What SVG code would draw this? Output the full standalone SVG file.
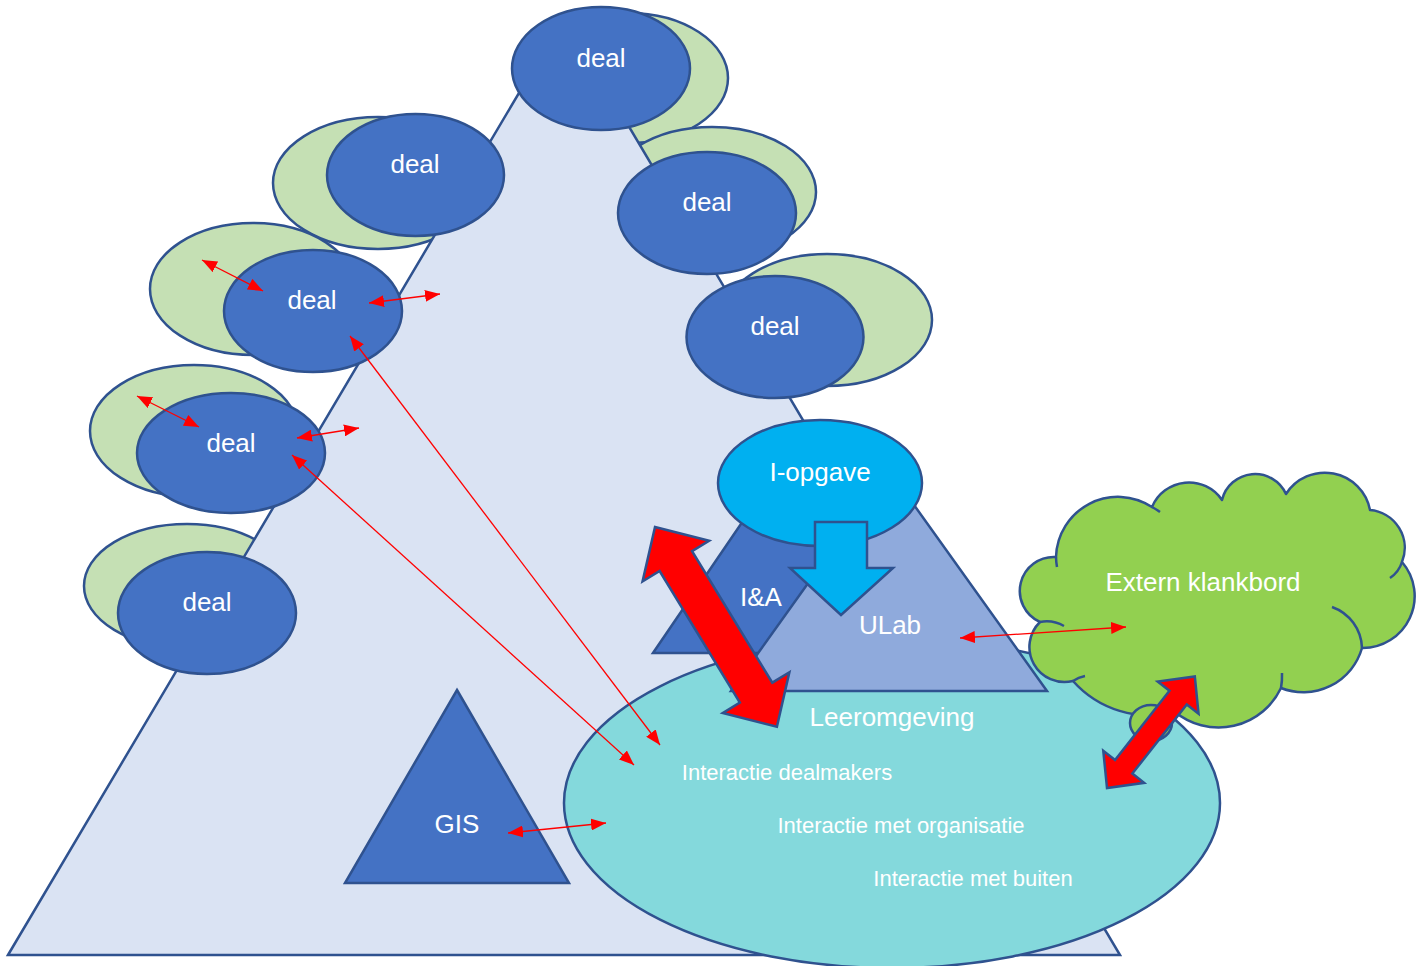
<svg xmlns="http://www.w3.org/2000/svg" width="1423" height="966" viewBox="0 0 1423 966">
<defs>
<style>
.tri{fill:#DAE3F3;stroke:#2F528F;stroke-width:2.5}
.g{fill:#C5E0B4;stroke:#2F528F;stroke-width:2.5}
.b{fill:#4472C4;stroke:#2F528F;stroke-width:2.5}
.lbl{font-family:"Liberation Sans",Arial,sans-serif;fill:#FFFFFF;text-anchor:middle}
.big{font-size:26px}
.sm{font-size:22px}
.thin{stroke:#FF0000;stroke-width:1.3;fill:none;marker-start:url(#ah);marker-end:url(#ah)}
.thick{fill:#FF0000;stroke:#2F528F;stroke-width:2.5;stroke-linejoin:miter}
.tail{fill:none;stroke:#2F528F;stroke-width:2.5}
</style>
<marker id="ah" viewBox="0 0 15 12" markerUnits="userSpaceOnUse" markerWidth="15" markerHeight="12" refX="15" refY="6" orient="auto-start-reverse">
<path d="M0,0 L15,6 L0,12 Z" fill="#FF0000"/>
</marker>
</defs>
<rect width="1423" height="966" fill="#FFFFFF"/>

<g id="deal-shadows">
<ellipse class="g" cx="628" cy="78" rx="100" ry="65"/>
<ellipse class="g" cx="378" cy="183" rx="105" ry="66"/>
<ellipse class="g" cx="712" cy="192" rx="104" ry="65"/>
<ellipse class="g" cx="253" cy="289" rx="103" ry="66"/>
<ellipse class="g" cx="827" cy="320" rx="105" ry="66"/>
<ellipse class="g" cx="194" cy="431" rx="104" ry="66"/>
<ellipse class="g" cx="187" cy="586" rx="103" ry="62"/>
</g>

<g id="organisatie">
<polygon class="tri" points="8,955 564,17 1120,955"/>
</g>

<g id="deal-1"><ellipse class="b" cx="601" cy="68.5" rx="89" ry="61.5"/><text class="lbl big" x="601" y="67">deal</text></g>
<g id="deal-2"><ellipse class="b" cx="415.5" cy="175" rx="88.5" ry="61"/><text class="lbl big" x="415" y="173">deal</text></g>
<g id="deal-3"><ellipse class="b" cx="707" cy="213" rx="89" ry="61"/><text class="lbl big" x="707" y="211">deal</text></g>
<g id="deal-4"><ellipse class="b" cx="313" cy="311" rx="89" ry="61"/><text class="lbl big" x="312" y="309">deal</text></g>
<g id="deal-5"><ellipse class="b" cx="775" cy="337" rx="88.5" ry="61"/><text class="lbl big" x="775" y="335">deal</text></g>
<g id="deal-6"><ellipse class="b" cx="231" cy="453" rx="94" ry="60"/><text class="lbl big" x="231" y="452">deal</text></g>
<g id="deal-7"><ellipse class="b" cx="207" cy="613" rx="89" ry="61"/><text class="lbl big" x="207" y="611">deal</text></g>

<g id="leeromgeving">
<ellipse cx="892" cy="803" rx="328" ry="165" fill="#84D9DC" stroke="#2F528F" stroke-width="2.5"/>
<text class="lbl big" x="892" y="726">Leeromgeving</text>
<text class="lbl sm" x="787" y="780">Interactie dealmakers</text>
<text class="lbl sm" x="901" y="833">Interactie met organisatie</text>
<text class="lbl sm" x="973" y="886">Interactie met buiten</text>
</g>

<g id="ia">
<polygon class="b" points="653,653 805,430 957,653"/>
<text class="lbl big" x="761" y="606">I&amp;A</text>
</g>

<g id="ulab">
<polygon points="731,691 889,470 1047,691" fill="#8FAADC" stroke="#2F528F" stroke-width="2.5"/>
<text class="lbl big" x="890" y="634">ULab</text>
</g>

<g id="i-opgave">
<ellipse cx="820" cy="483" rx="102" ry="63" fill="#00B0F0" stroke="#2F528F" stroke-width="2.5"/>
<text class="lbl big" x="820" y="481">I-opgave</text>
<polygon points="815,522 867,522 867,568 893,568 841,615 790,568 815,568" fill="#00B0F0" stroke="#2F528F" stroke-width="2.5"/>
</g>

<g id="gis">
<polygon class="b" points="457,690 569,883 345,883"/>
<text class="lbl big" x="457" y="833">GIS</text>
</g>

<g id="extern-klankbord">
<path d="M1056,557 A62,62 0 0 1 1152,507 A40,40 0 0 1 1222,500 A34,34 0 0 1 1286,494 A46,46 0 0 1 1370,510 A38,38 0 0 1 1402,562 A52,52 0 0 1 1362,648 A61,61 0 0 1 1281,688 A69,69 0 0 1 1175,712 A102,102 0 0 1 1073,681 A35,35 0 0 1 1040,622 A34,34 0 0 1 1056,557 Z" fill="#92D050" stroke="#2F528F" stroke-width="2.5" stroke-linejoin="round"/>
<path class="tail" d="M1332,607 A45,45 0 0 1 1362,648"/>
<path class="tail" d="M1402,562 A30,30 0 0 1 1390,578"/>
<path class="tail" d="M1282,673 A69,69 0 0 1 1281,688"/>
<path class="tail" d="M1040,622 A35,35 0 0 1 1064,626"/>
<path class="tail" d="M1073,681 A30,30 0 0 1 1085,676"/>
<path class="tail" d="M1152,507 A62,62 0 0 1 1160,512"/>
<path class="tail" d="M1057,567 A62,62 0 0 1 1056,557"/>
<ellipse cx="1151" cy="723" rx="21" ry="18" fill="#92D050" stroke="#2F528F" stroke-width="2.5"/>
<text class="lbl big" x="1203" y="591">Extern klankbord</text>
</g>

<g id="connectors">
<path class="thick" transform="translate(655,527) rotate(58.6)" d="M0,0 L40,-39 L40,-19 L194,-19 L194,-39 L234,0 L194,39 L194,19 L40,19 L40,39 Z"/>
<path class="thick" transform="translate(1107,788) rotate(-51.8)" d="M0,0 L27,-26 L27,-11 L115,-11 L115,-26 L142,0 L115,26 L115,11 L27,11 L27,26 Z"/>
<line class="thin" x1="202" y1="260" x2="263" y2="291"/>
<line class="thin" x1="369" y1="303" x2="440" y2="294"/>
<line class="thin" x1="137" y1="396" x2="199" y2="427"/>
<line class="thin" x1="297" y1="438" x2="359" y2="428"/>
<line class="thin" x1="350" y1="336" x2="660" y2="745"/>
<line class="thin" x1="292" y1="455" x2="634" y2="765"/>
<line class="thin" x1="508" y1="833" x2="606" y2="823"/>
<line class="thin" x1="960" y1="638" x2="1126" y2="627"/>
</g>
</svg>
